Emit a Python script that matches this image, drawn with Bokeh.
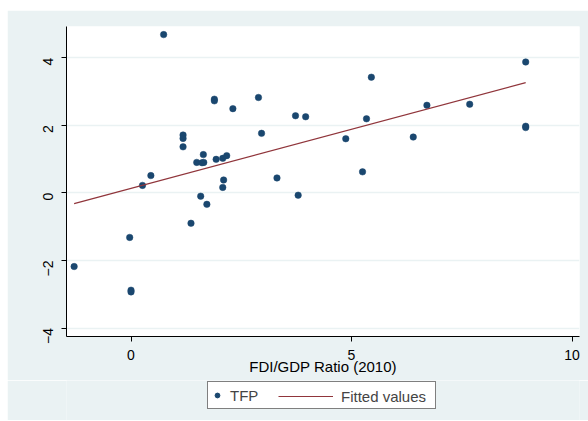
from bokeh.plotting import figure
from bokeh.models import Legend, LegendItem, Range1d, FixedTicker, ColumnDataSource, Spacer
from bokeh.layouts import column, row
from bokeh.embed import file_html
from bokeh.resources import INLINE
import math

# Data
fdi = [0.74, 1.89, 1.89, 2.31, 1.18, 1.18, 1.18, 1.64, 1.49, 1.61, 1.65, 1.93, 2.08, 2.17,
       0.45, 2.10, 2.08, 0.26, 1.58, 1.72, 1.36, -0.03, -1.29, 0.0, 0.0,
       2.89, 3.73, 3.96, 5.45, 5.34, 2.96, 4.87, 3.31, 5.25, 3.79,
       8.95, 6.71, 7.68, 8.95, 8.95, 6.40]
tfp = [4.68, 2.77, 2.72, 2.49, 1.71, 1.61, 1.36, 1.13, 0.90, 0.89, 0.90, 0.99, 1.02, 1.10,
       0.51, 0.38, 0.16, 0.22, -0.10, -0.34, -0.90, -1.32, -2.18, -2.88, -2.93,
       2.82, 2.28, 2.25, 3.42, 2.19, 1.76, 1.60, 0.44, 0.62, -0.07,
       3.87, 2.59, 2.62, 1.97, 1.93, 1.65]
fit_x = [-1.29, 8.95]
fit_y = [-0.32, 3.26]
x_ticks = [0, 5, 10]
y_ticks = [-4, -2, 0, 2, 4]
x_title = "FDI/GDP Ratio (2010)"
series_names = ["TFP", "Fitted values"]

BG = "#eaf2f3"
DOT = "#1a476f"
FIT = "#90353b"
FONT = "Liberation Sans"

p = figure(width=581, height=370, output_backend="svg", toolbar_location=None,
           x_range=Range1d(-1.463, 10.17), y_range=Range1d(-4.25, 4.92),
           min_border_left=59, min_border_right=9, min_border_top=16, min_border_bottom=44)
p.border_fill_color = BG
p.background_fill_color = "white"
p.outline_line_color = None

src = ColumnDataSource(dict(x=fdi, y=tfp))
fit_src = ColumnDataSource(dict(x=fit_x, y=fit_y))
p.scatter("x", "y", source=src, size=6.5, color=DOT, line_color=DOT, line_width=0.5)
p.line("x", "y", source=fit_src, line_color=FIT, line_width=1.2)

p.xgrid.grid_line_color = None
p.ygrid.grid_line_color = BG
p.ygrid.grid_line_width = 1.5
p.ygrid.ticker = FixedTicker(ticks=y_ticks)

for ax in (p.xaxis[0], p.yaxis[0]):
    ax.axis_line_color = "black"
    ax.axis_line_width = 1
    ax.major_tick_line_color = "black"
    ax.major_tick_out = 5
    ax.major_tick_in = 0
    ax.minor_tick_line_color = None
    ax.major_label_text_font = FONT
    ax.major_label_text_font_size = "14px"
    ax.major_label_text_color = "black"

p.xaxis[0].ticker = FixedTicker(ticks=x_ticks)
p.yaxis[0].ticker = FixedTicker(ticks=y_ticks)
p.xaxis[0].major_label_standoff = 8
p.yaxis[0].major_label_standoff = 13
p.yaxis[0].major_label_orientation = math.pi / 2
p.xaxis[0].axis_label = x_title
p.xaxis[0].axis_label_text_font = FONT
p.xaxis[0].axis_label_text_font_size = "15px"
p.xaxis[0].axis_label_text_font_style = "normal"
p.xaxis[0].axis_label_text_color = "black"
p.xaxis[0].axis_label_standoff = -5

# Legend strip below the plot (its renderers use the same data, out of view)
q = figure(width=581, height=40, output_backend="svg", toolbar_location=None,
           x_axis_type=None, y_axis_type=None,
           x_range=Range1d(100, 101), y_range=Range1d(100, 101),
           min_border_left=59, min_border_right=9, min_border_top=0, min_border_bottom=0)
q.border_fill_color = BG
q.background_fill_color = BG
q.outline_line_color = None
q.grid.visible = False
leg_pts = q.scatter("x", "y", source=src, color=DOT, line_color=DOT)
leg_ln = q.line("x", "y", source=fit_src, line_color=FIT, line_width=1.2)

leg_l = Legend(items=[LegendItem(label=series_names[0], renderers=[leg_pts])],
               location=(141, 11), orientation="horizontal",
               glyph_width=12, glyph_height=20, label_height=20, label_width=202,
               label_standoff=7, padding=3, spacing=0, margin=0,
               border_line_color="black", border_line_width=1,
               background_fill_color="white", background_fill_alpha=1,
               label_text_font=FONT, label_text_font_size="15px")
leg_r = Legend(items=[LegendItem(label=series_names[1], renderers=[leg_ln])],
               location=(212, 14), orientation="horizontal",
               glyph_width=55, glyph_height=20, label_height=20,
               label_standoff=8, padding=3, spacing=0, margin=0,
               border_line_color=None, background_fill_alpha=0,
               label_text_font=FONT, label_text_font_size="15px")
q.add_layout(leg_l)
q.add_layout(leg_r)

layout = column(Spacer(width=588, height=10),
                row(Spacer(width=7, height=410), column(p, q, spacing=0), spacing=0),
                spacing=0)

open("out.html", "w").write(file_html(layout, INLINE))
